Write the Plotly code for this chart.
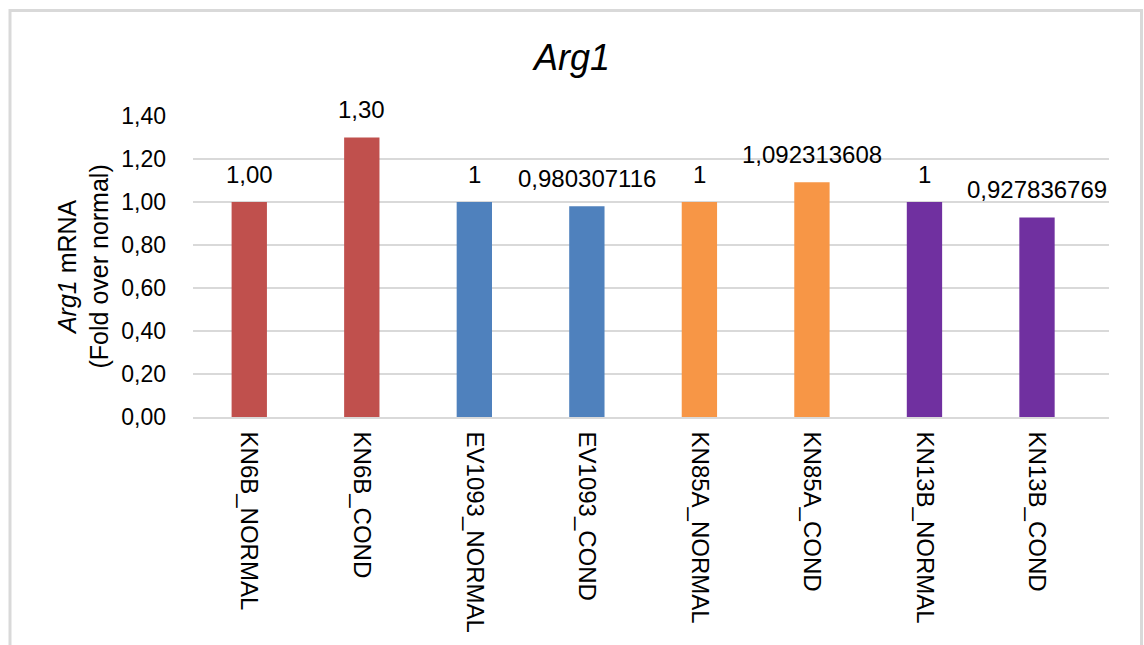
import plotly.graph_objects as go

# Arg1 expression per sample
categories = ["KN6B_NORMAL", "KN6B_COND", "EV1093_NORMAL", "EV1093_COND",
              "KN85A_NORMAL", "KN85A_COND", "KN13B_NORMAL", "KN13B_COND"]
values = [1.00, 1.30, 1, 0.980307116, 1, 1.092313608, 1, 0.927836769]
label_formats = ["{:.2f}", "{:.2f}", "{:g}", "{:.9f}", "{:g}", "{:.9f}", "{:g}", "{:.9f}"]
bar_colors = ["#C0504D", "#C0504D", "#4F81BD", "#4F81BD",
              "#F79646", "#F79646", "#7030A0", "#7030A0"]
y_ticks = [0.0, 0.2, 0.4, 0.6, 0.8, 1.0, 1.2, 1.4]

W, H = 1144, 645
ML, MR, MT, MB = 193, 35, 116, 228
PW, PH = W - ML - MR, H - MT - MB


def px_x(px):
    return (px - ML) / PW


def px_y(py):
    return (H - MB - py) / PH


FONT = "Arial, Liberation Sans, sans-serif"

labels = [fmt.format(v).replace(".", ",") for fmt, v in zip(label_formats, values)]

fig = go.Figure(go.Bar(
    x=categories, y=values,
    marker=dict(color=bar_colors, line=dict(width=0)),
    hoverinfo="skip",
))

annotations = [
    dict(x=c, y=v, xref="x", yref="y", text=t, showarrow=False,
         yanchor="middle", yshift=28,
         font=dict(family=FONT, size=24, color="#000000"))
    for c, v, t in zip(categories, values, labels)
]
annotations.append(dict(
    x=px_x(83), y=0.5, xref="paper", yref="paper",
    text="<i>Arg1</i> mRNA<br>(Fold over normal)", textangle=-90,
    showarrow=False, xanchor="center", yanchor="middle",
    font=dict(family=FONT, size=25, color="#000000"),
))

fig.update_layout(
    width=W, height=H,
    margin=dict(l=ML, r=MR, t=MT, b=MB, pad=0),
    paper_bgcolor="white", plot_bgcolor="white",
    separators=",.",
    bargap=0.686,
    showlegend=False,
    title=dict(text="<i>Arg1</i>", x=0.5, xref="container", xanchor="center",
               y=1 - 57 / H, yref="container", yanchor="middle",
               font=dict(family=FONT, size=36, color="#000000")),
    xaxis=dict(
        tickangle=90, showgrid=False, showline=True, linecolor="#d9d9d9",
        linewidth=1.5, ticks="", ticklabelstandoff=8,
        tickfont=dict(family=FONT, size=24, color="#000000"),
    ),
    yaxis=dict(
        range=[0, 1.4], tickvals=y_ticks, tickformat=".2f",
        showgrid=True, gridcolor="#d9d9d9", gridwidth=1.5,
        zeroline=False, showline=False, ticks="", ticklabelstandoff=26,
        tickfont=dict(family=FONT, size=23, color="#000000"),
    ),
    annotations=annotations,
    shapes=[dict(type="rect", xref="paper", yref="paper",
                 x0=px_x(10), x1=px_x(1141.5), y0=px_y(10.5), y1=px_y(700),
                 line=dict(color="#d9d9d9", width=3), layer="below")],
)

fig.write_html("out.html")
